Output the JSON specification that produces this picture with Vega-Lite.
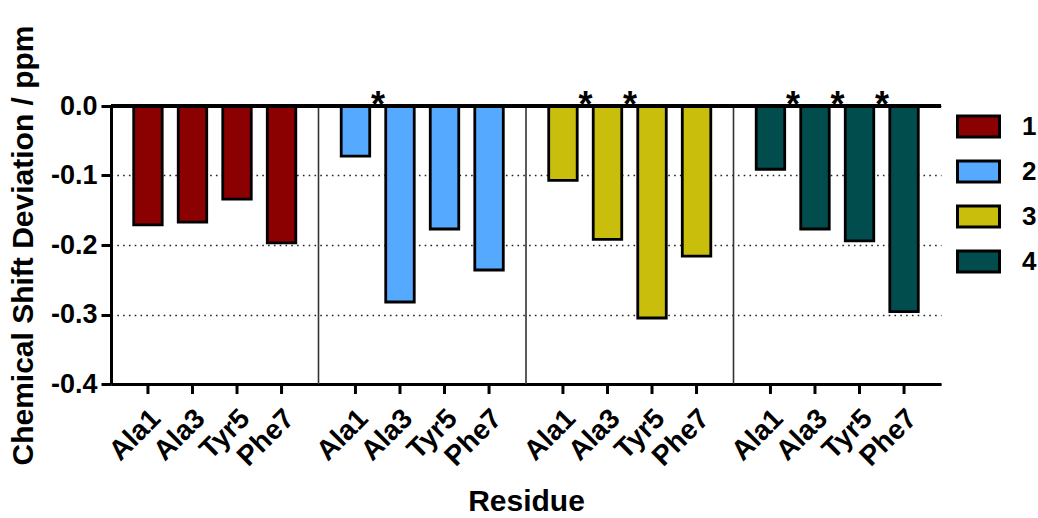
{
  "$schema": "https://vega.github.io/schema/vega-lite/v6.json",
  "width": 830,
  "height": 278,
  "autosize": {"type": "none"},
  "padding": {"left": 111, "top": 106, "right": 97, "bottom": 134},
  "background": "white",
  "config": {
    "font": "Liberation Sans",
    "view": {"stroke": null},
    "axis": {"labelFont": "Liberation Sans", "titleFont": "Liberation Sans"}
  },
  "datasets": {
    "shifts": [
      {"peptide": "1", "residue": "Ala1", "value": -0.171, "sig": ""},
      {"peptide": "1", "residue": "Ala3", "value": -0.167, "sig": ""},
      {"peptide": "1", "residue": "Tyr5", "value": -0.134, "sig": ""},
      {"peptide": "1", "residue": "Phe7", "value": -0.197, "sig": ""},
      {"peptide": "2", "residue": "Ala1", "value": -0.072, "sig": ""},
      {"peptide": "2", "residue": "Ala3", "value": -0.282, "sig": "*"},
      {"peptide": "2", "residue": "Tyr5", "value": -0.177, "sig": ""},
      {"peptide": "2", "residue": "Phe7", "value": -0.236, "sig": ""},
      {"peptide": "3", "residue": "Ala1", "value": -0.107, "sig": ""},
      {"peptide": "3", "residue": "Ala3", "value": -0.192, "sig": "*"},
      {"peptide": "3", "residue": "Tyr5", "value": -0.305, "sig": "*"},
      {"peptide": "3", "residue": "Phe7", "value": -0.216, "sig": ""},
      {"peptide": "4", "residue": "Ala1", "value": -0.091, "sig": ""},
      {"peptide": "4", "residue": "Ala3", "value": -0.177, "sig": "*"},
      {"peptide": "4", "residue": "Tyr5", "value": -0.194, "sig": "*"},
      {"peptide": "4", "residue": "Phe7", "value": -0.296, "sig": "*"}
    ],
    "panels": [{"peptide": "2"}, {"peptide": "3"}, {"peptide": "4"}]
  },
  "layer": [
    {
      "data": {"name": "shifts"},
      "mark": {"type": "bar", "stroke": "black", "strokeWidth": 2.8, "opacity": 1},
      "encoding": {
        "x": {
          "field": "peptide",
          "type": "nominal",
          "scale": {"type": "band", "domain": ["1", "2", "3", "4"], "paddingInner": 0, "paddingOuter": 0},
          "axis": {
            "title": "Residue",
            "titleFontSize": 30,
            "titleFontWeight": "bold",
            "titleColor": "black",
            "titlePadding": 102,
            "labels": false,
            "ticks": false,
            "domainColor": "black",
            "domainWidth": 3
          }
        },
        "xOffset": {
          "field": "residue",
          "type": "nominal",
          "scale": {"domain": ["Ala1", "Ala3", "Tyr5", "Phe7"], "paddingInner": 0.36, "paddingOuter": 0.51}
        },
        "y": {
          "field": "value",
          "type": "quantitative",
          "scale": {"domain": [-0.4, 0], "nice": false, "zero": false},
          "axis": {
            "title": "Chemical Shift Deviation / ppm",
            "titleFontSize": 30,
            "titleFontWeight": "bold",
            "titleColor": "black",
            "titlePadding": 12,
            "values": [0, -0.1, -0.2, -0.3, -0.4],
            "labelExpr": "replace(format(datum.value, '.1f'), '\u2212', '-')",
            "labelFontSize": 27,
            "labelFontWeight": "bold",
            "labelColor": "black",
            "labelPadding": 4,
            "tickSize": 10,
            "tickWidth": 3,
            "tickColor": "black",
            "domainColor": "black",
            "domainWidth": 3,
            "grid": true,
            "gridColor": "#222222",
            "gridWidth": 1.6,
            "gridDash": [1.6, 4.2]
          }
        },
        "color": {
          "field": "peptide",
          "type": "nominal",
          "scale": {"domain": ["1", "2", "3", "4"], "range": ["#8b0000", "#55aaff", "#c9be0b", "#014c4c"]},
          "legend": {
            "title": null,
            "orient": "none",
            "legendX": 845,
            "legendY": -2,
            "padding": 0,
            "symbolType": "M-1,-0.5H1V0.5H-1Z",
            "symbolSize": 1764,
            "symbolStrokeColor": "black",
            "symbolStrokeWidth": 3,
            "symbolOpacity": 1,
            "labelFontSize": 26,
            "labelFontWeight": "bold",
            "labelColor": "black",
            "labelOffset": 21,
            "rowPadding": 6
          }
        }
      }
    },
    {
      "data": {"name": "panels"},
      "mark": {"type": "rule", "stroke": "#333333", "strokeWidth": 1.6},
      "encoding": {
        "x": {"field": "peptide", "type": "nominal", "bandPosition": 0}
      }
    },
    {
      "data": {"name": "shifts"},
      "mark": {"type": "rule", "stroke": "black", "strokeWidth": 3},
      "encoding": {"y": {"datum": 0}}
    },
    {
      "data": {"name": "shifts"},
      "transform": [{"filter": "datum.sig != ''"}],
      "mark": {"type": "text", "font": "Liberation Sans", "fontSize": 36, "fontWeight": "bold", "color": "black", "baseline": "alphabetic", "align": "center", "dx": -22, "yOffset": 11},
      "encoding": {
        "x": {"field": "peptide", "type": "nominal"},
        "xOffset": {"field": "residue", "type": "nominal"},
        "y": {"datum": 0},
        "text": {"field": "sig"}
      }
    },
    {
      "data": {"name": "shifts"},
      "mark": {"type": "rule", "stroke": "black", "strokeWidth": 3, "y2Offset": 10},
      "encoding": {
        "x": {"field": "peptide", "type": "nominal"},
        "xOffset": {"field": "residue", "type": "nominal"},
        "y": {"datum": -0.4},
        "y2": {"datum": -0.4}
      }
    },
    {
      "data": {"name": "shifts"},
      "mark": {"type": "text", "font": "Liberation Sans", "fontSize": 28, "fontWeight": "bold", "color": "black", "angle": 315, "align": "right", "baseline": "middle", "yOffset": 39, "dx": 12},
      "encoding": {
        "x": {"field": "peptide", "type": "nominal"},
        "xOffset": {"field": "residue", "type": "nominal"},
        "y": {"datum": -0.4},
        "text": {"field": "residue"}
      }
    }
  ]
}
